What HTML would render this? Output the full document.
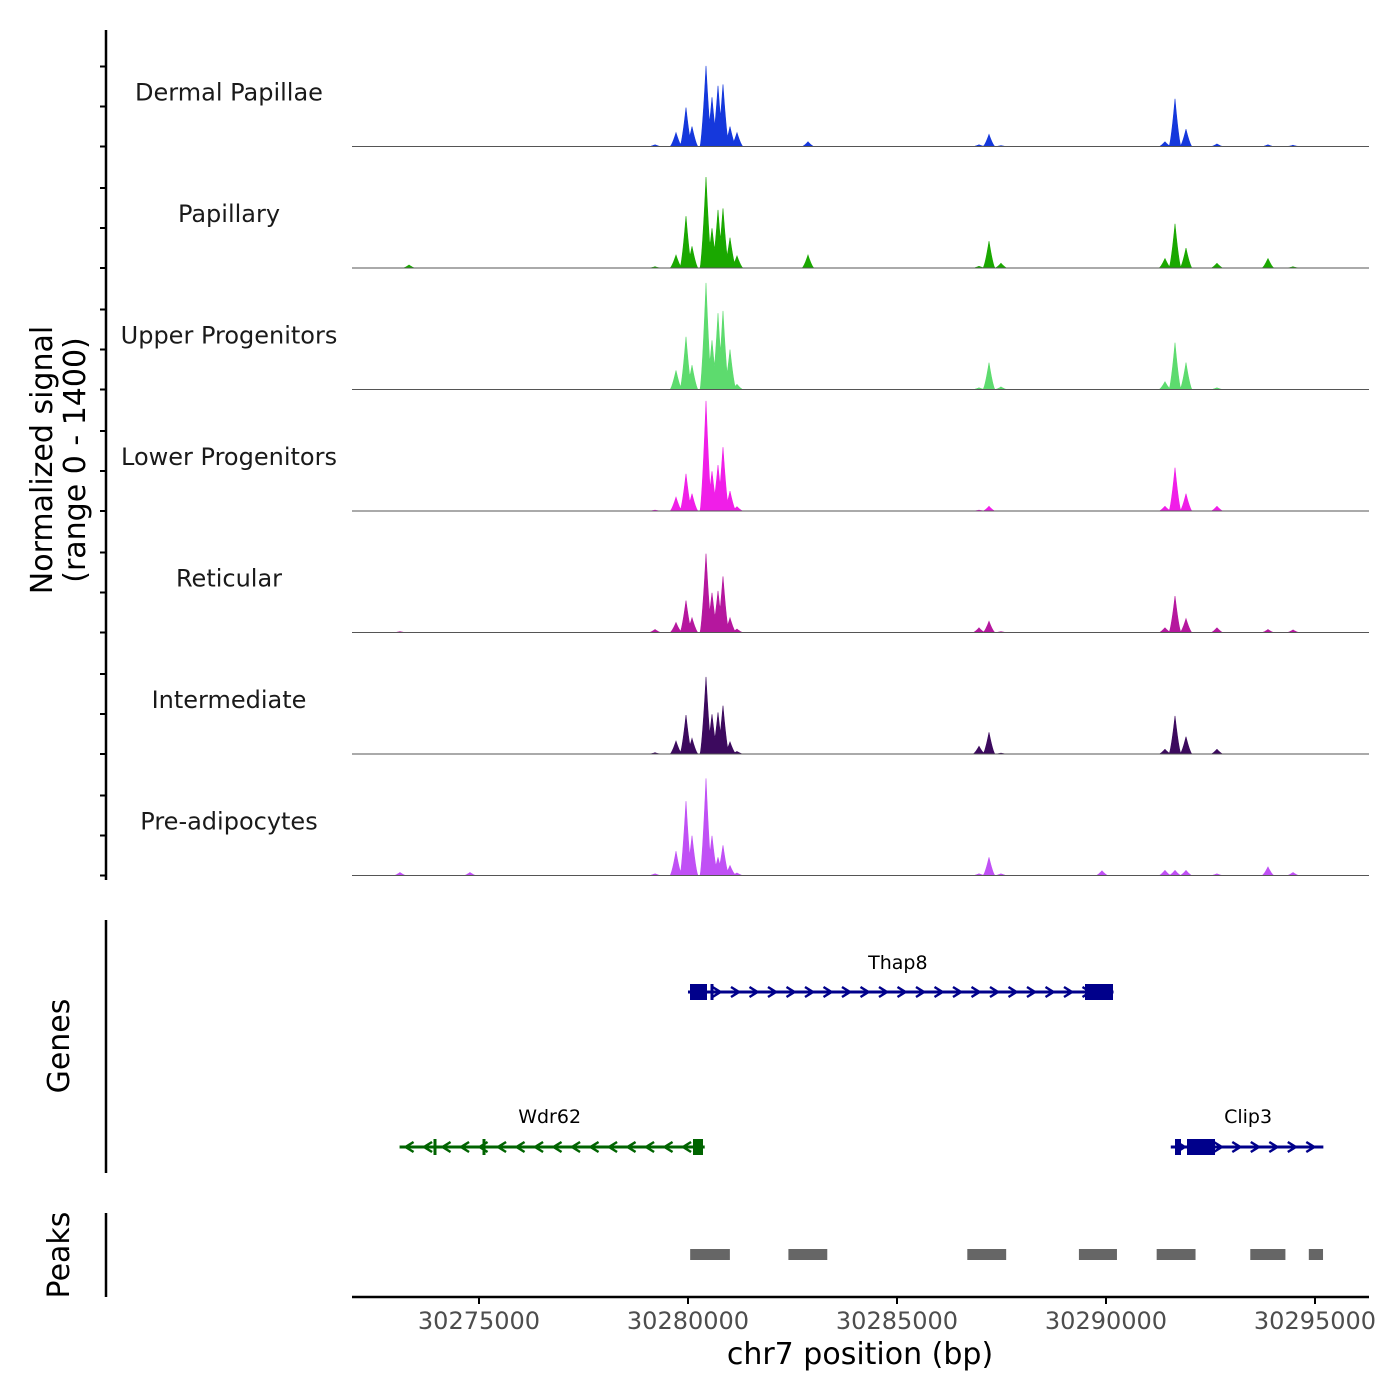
<!DOCTYPE html>
<html><head><meta charset="utf-8">
<style>
html,body{margin:0;padding:0;background:#fff;}
svg{display:block;font-family:"DejaVu Sans","Liberation Sans",sans-serif;}
</style></head>
<body>
<svg id="chart" width="1400" height="1400" viewBox="0 0 1400 1400" xmlns="http://www.w3.org/2000/svg">
<g id="tracks"></g>
<line x1="106" y1="30" x2="106" y2="880" stroke="#000" stroke-width="2.5"/>
<g id="yticks"></g>
<text transform="translate(52,460) rotate(-90)" text-anchor="middle" font-size="30" fill="#000">Normalized signal</text>
<text transform="translate(85,460) rotate(-90)" text-anchor="middle" font-size="30" fill="#000">(range 0 - 1400)</text>

<line x1="106" y1="920" x2="106" y2="1173" stroke="#000" stroke-width="2.5"/>
<text transform="translate(69,1046) rotate(-90)" text-anchor="middle" font-size="30">Genes</text>
<g id="genes"></g>

<line x1="106" y1="1213" x2="106" y2="1297" stroke="#000" stroke-width="2.5"/>
<text transform="translate(69,1255) rotate(-90)" text-anchor="middle" font-size="30">Peaks</text>
<g id="peaks"></g>

<line x1="352" y1="1297" x2="1369" y2="1297" stroke="#000" stroke-width="2.5"/>
<g id="xticks"></g>
<text x="860" y="1364" text-anchor="middle" font-size="30">chr7 position (bp)</text>
</svg>
<script>
const trackNames = ["Dermal Papillae","Papillary","Upper Progenitors","Lower Progenitors","Reticular","Intermediate","Pre-adipocytes"];
const trackColors = ["#1538dc","#1aa800","#5ddb6e","#f01ee8","#b5179e","#3c0a5e","#c050f5"];
const peakPositions = [30273110,30273326,30274785,30279211,30279713,30279952,30280096,30280431,30280574,30280718,30280837,30281005,30281172,30282871,30286962,30287201,30287488,30289904,30291411,30291651,30291914,30292655,30293875,30294474];
const dermalPapillae   = [0,0,0,20,160,450,230,930,570,700,720,230,160,55,20,140,10,0,55,550,200,30,20,15];
const papillary        = [0,35,0,15,150,600,250,1050,460,670,690,350,140,150,20,310,55,0,110,510,230,55,110,15];
const upperProgenitors = [0,0,0,0,220,610,280,1230,570,880,910,460,60,0,20,310,30,0,90,540,310,20,0,0];
const lowerProgenitors = [0,0,0,10,160,430,200,1270,460,530,740,230,50,0,10,55,0,0,55,500,200,55,0,0];
const reticular        = [10,0,0,35,115,370,170,910,460,480,650,170,40,0,55,130,10,0,55,420,160,55,35,30];
const intermediate     = [0,0,0,15,150,450,180,890,460,480,560,140,30,0,90,250,10,0,55,440,200,55,0,0];
const preAdipocytes    = [35,0,35,20,280,860,460,1120,460,210,350,115,30,0,20,210,20,55,60,60,60,20,100,35];
const trackValues = [dermalPapillae,papillary,upperProgenitors,lowerProgenitors,reticular,intermediate,preAdipocytes];
const xTickValues = [30275000,30280000,30285000,30290000,30295000];
const peakStarts = [30280100,30282450,30286730,30289400,30291260,30293500,30294900];
const peakEnds   = [30281050,30283380,30287660,30290310,30292190,30294340,30295240];

const NS="http://www.w3.org/2000/svg";
const X0=352, X1=1369, BP0=30271962, BP1=30296292;
const xScale = bp => X0 + (bp-BP0)/(BP1-BP0)*(X1-X0);
const TRACK_TOP=25, TRACK_H=121.5, VMAX=1400;
function mk(tag, attrs, parent){const e=document.createElementNS(NS,tag);for(const k in attrs)e.setAttribute(k,attrs[k]);parent.appendChild(e);return e;}

const tracks=document.getElementById('tracks');
const yticks=document.getElementById('yticks');
trackNames.forEach((name,i)=>{
  const base=TRACK_TOP+TRACK_H*(i+1);
  const yScale=v=>base-v/VMAX*TRACK_H;
  const vals=trackValues[i];
  let d=`M${X0},${base}`;
  const w=6;
  for(let px=X0;px<=X1;px+=0.5){
    let v=0;
    peakPositions.forEach((p,j)=>{const c=xScale(p);const t=1-Math.abs(px-c)/w;if(t>0)v=Math.max(v,vals[j]*Math.pow(t,1.4));});
    d+=` L${px},${yScale(v).toFixed(2)}`;
  }
  d+=` L${X1},${base} Z`;
  const area=mk('path',{d:d,fill:trackColors[i],stroke:trackColors[i],'stroke-width':0.6},tracks);
  
  
  const bl=mk('line',{x1:X0,y1:base,x2:X1,y2:base,stroke:'#555','stroke-width':1},tracks);
  
  
  const lab=mk('text',{x:229,y:base-46,'text-anchor':'middle','font-size':24,fill:'#1a1a1a'},tracks);
  lab.textContent=name;
  
  
  for(let k=0;k<3;k++){
    const ty=base-k*40;
    const tk=mk('line',{x1:100,y1:ty,x2:106,y2:ty,stroke:'#000','stroke-width':2},yticks);
    
    
  }
});

const genes=document.getElementById('genes');
function gene(name,startBp,endBp,y,color,dir,boxes,ticks,labelBp,labelY){
  const g=mk('g',{},genes);
  
  
  const x1=xScale(startBp),x2=xScale(endBp);
  mk('line',{x1:x1,y1:y,x2:x2,y2:y,stroke:color,'stroke-width':3},g);
  for(let x=x1+10;x<x2-4;x+=18.5){
    const dx=dir>0?-4:4;
    mk('polyline',{points:`${x+dx},${y-5} ${x-dx},${y} ${x+dx},${y+5}`,fill:'none',stroke:color,'stroke-width':2.5},g);
  }
  boxes.forEach(b=>mk('rect',{x:b[0],y:y-8,width:b[1]-b[0],height:16,fill:color},g));
  ticks.forEach(t=>mk('line',{x1:t,y1:y-8,x2:t,y2:y+8,stroke:color,'stroke-width':3},g));
  const t=mk('text',{x:xScale(labelBp),y:labelY,'text-anchor':'middle','font-size':19},g);
  t.textContent=name;
}
gene('Thap8',30280000,30290180,992,'#00008b',1,[[690,707],[1085,1113]],[712],30285020,969);
gene('Wdr62',30273100,30280400,1147,'#006400',-1,[[693,703]],[435,484],30276690,1123);
gene('Clip3',30291550,30295200,1147,'#00008b',1,[[1175,1181],[1187,1215]],[],30293400,1123);

const peaks=document.getElementById('peaks');
peakStarts.forEach((s,i)=>{
  const r=mk('rect',{x:xScale(s)-2,y:1249,width:xScale(peakEnds[i])-xScale(s),height:11,fill:'#666'},peaks);
  
  
});

const xt=document.getElementById('xticks');
xTickValues.forEach(v=>{
  const x=xScale(v);
  const l=mk('line',{x1:x,y1:1297,x2:x,y2:1304,stroke:'#000','stroke-width':2},xt);
  
  
  const t=mk('text',{x:x,y:1329,'text-anchor':'middle','font-size':24,fill:'#4d4d4d'},xt);
  t.textContent=v;
  
  
});
</script>
</body></html>
